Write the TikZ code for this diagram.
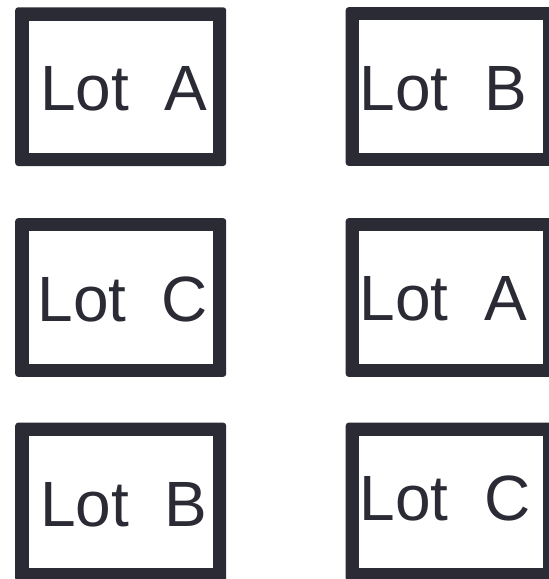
\documentclass[tikz,border=0pt]{standalone}
\usepackage{fontspec}
\setmainfont{Liberation Sans}
\definecolor{ink}{HTML}{2B2B35}
\begin{document}
\begin{tikzpicture}[x=1pt,y=-1pt,
  lotbox/.style={fill=ink,rounded corners=3pt,minimum width=211pt,minimum height=158.7pt,inner sep=0pt,outer sep=0pt},
  lotlabel/.style={anchor=base west,inner sep=0pt,text=ink,font=\fontsize{64pt}{70pt}\selectfont}]
\useasboundingbox (0,0) rectangle (549,579);
\begin{scope}
\clip (0,0) rectangle (549,579);
\node[lotbox] (b1) at (120.7,86.65) {};
\node[lotbox] (b2) at (451.2,86.5) {};
\node[lotbox] (b3) at (120.7,297.5) {};
\node[lotbox] (b4) at (451.2,297.5) {};
\node[lotbox] (b5) at (120.7,502.0) {};
\node[lotbox] (b6) at (451.2,502.0) {};
\foreach \b in {b1,b2,b3,b4,b5,b6}{
  \fill[white] ([shift={(13.3pt,-13.3pt)}]\b.north west) rectangle ([shift={(-13.3pt,13.3pt)}]\b.south east);
}
\end{scope}
\node[lotlabel] (t1) at (40.1,110.7) {Lot\ \ A};
\node[lotlabel] (t2) at (359.4,110.7) {Lot\ \ B};
\node[lotlabel] (t3) at (37.3,321.7) {Lot\ \ C};
\node[lotlabel] (t4) at (359.4,320.7) {Lot\ \ A};
\node[lotlabel] (t5) at (40.1,526.0) {Lot\ \ B};
\node[lotlabel] (t6) at (359.4,520.7) {Lot\ \ C};
\end{tikzpicture}
\end{document}
